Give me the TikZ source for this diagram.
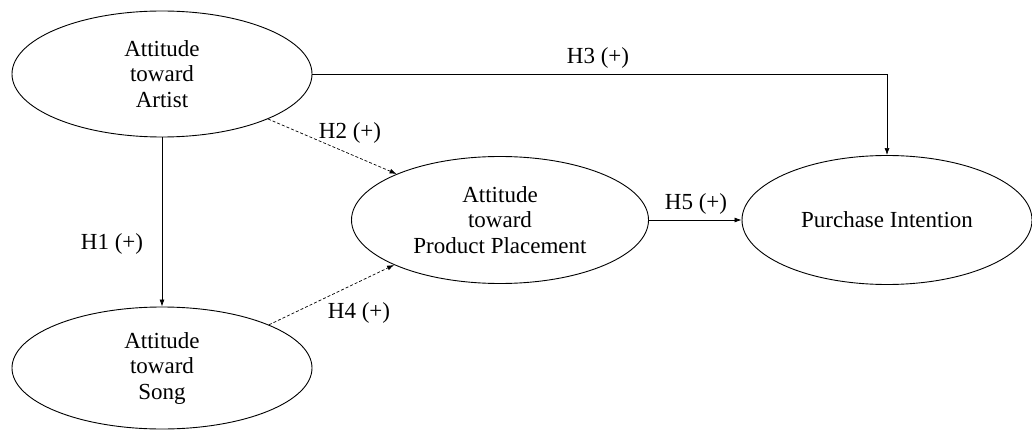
\documentclass[tikz,border=0pt]{standalone}
\usepackage{fontspec}
\setmainfont{Liberation Serif}
\usetikzlibrary{shapes.geometric,arrows.meta}
\begin{document}
\begin{tikzpicture}[x=1pt,y=-1pt,
  construct/.style={ellipse,draw,line width=0.9pt,inner sep=0pt,align=center,
    font=\fontsize{23}{25.5}\selectfont},
  lbl/.style={font=\fontsize{23}{25.5}\selectfont,inner sep=0pt},
  conn/.style={line width=0.7pt,-{Latex[length=7pt,width=5pt]}},
  dconn/.style={conn,dash pattern=on 3pt off 2pt}]
\useasboundingbox (0,0) rectangle (1032,430);
\node[construct,minimum width=300pt,minimum height=126pt] (A) at (162,74) {Attitude\\toward\\Artist};
\node[construct,minimum width=300pt,minimum height=122pt] (S) at (162,368) {Attitude\\toward\\Song};
\node[construct,minimum width=297pt,minimum height=127pt] (P) at (500,220) {Attitude\\toward\\Product Placement};
\node[construct,minimum width=290pt,minimum height=129pt] (I) at (887,220) {Purchase Intention};
\draw[conn] (A.east) -| (I.north);
\draw[conn] (A.south) -- (S.north);
\draw[dconn] (A.-23.5) -- (P.156.7);
\draw[dconn] (S.22) -- (P.203);
\draw[conn] (P.east) -- (I.west);
\node[lbl] (h3) at (598,58) {H3 (+)};
\node[lbl] (h2) at (350,133) {H2 (+)};
\node[lbl] (h1) at (112,244) {H1 (+)};
\node[lbl] (h4) at (359,313) {H4 (+)};
\node[lbl] (h5) at (696,204) {H5 (+)};
\end{tikzpicture}
\end{document}
